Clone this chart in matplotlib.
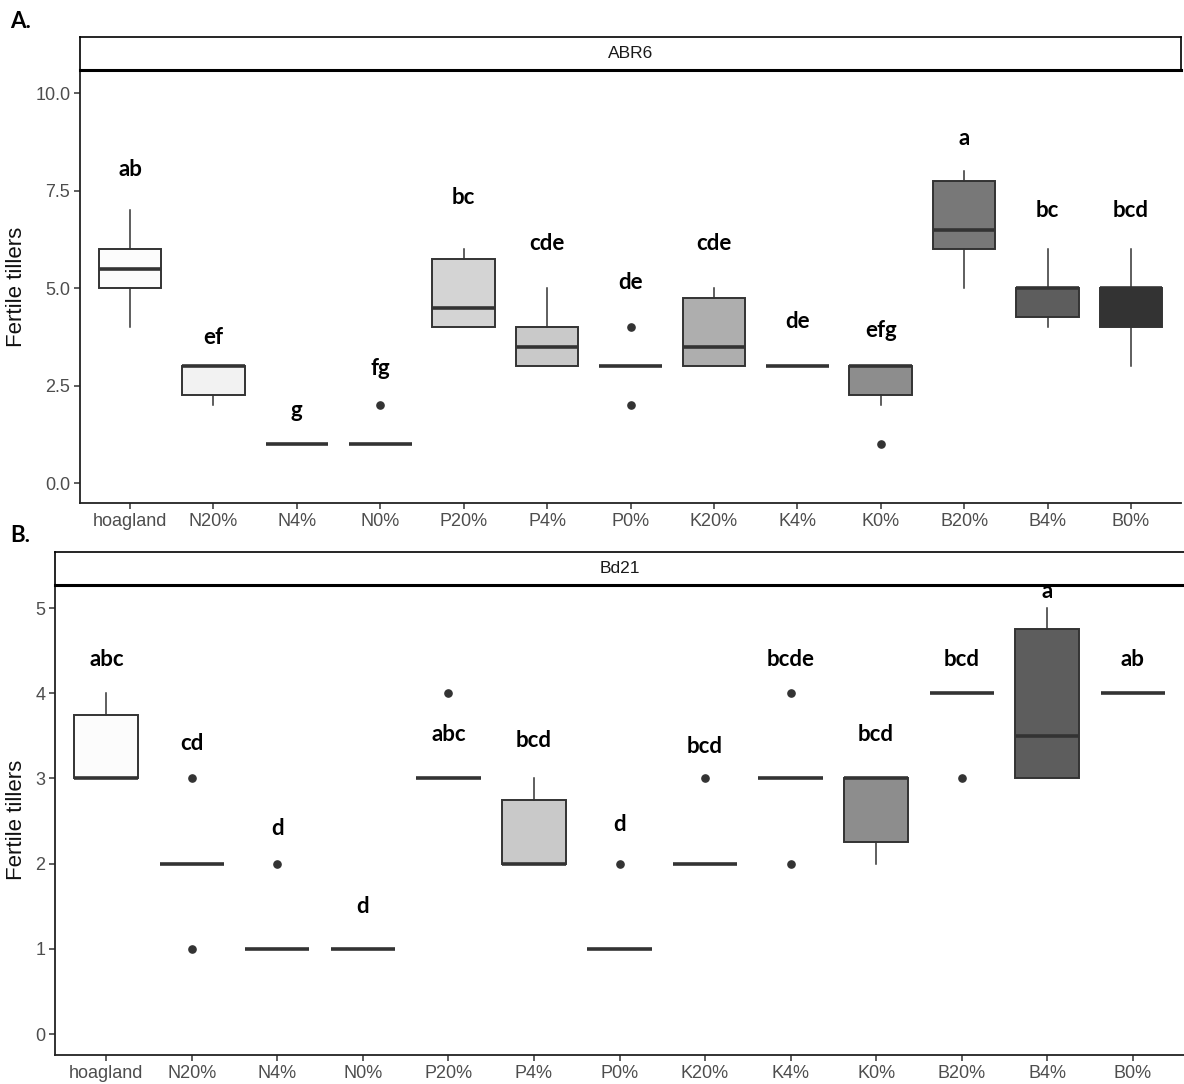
import matplotlib
matplotlib.use("Agg")
import matplotlib.pyplot as plt

plt.rcParams["font.family"] = ["Liberation Sans", "DejaVu Sans"]

# treatments on the x axis
groups = ["hoagland", "N20%", "N4%", "N0%", "P20%", "P4%", "P0%",
          "K20%", "K4%", "K0%", "B20%", "B4%", "B0%"]

# ABR6: five-number summaries and outliers per treatment
abr6_whislo = [4, 2, 1, 1, 4, 3, 3, 3, 3, 2, 5, 4, 3]
abr6_q1 = [5, 2.25, 1, 1, 4, 3, 3, 3, 3, 2.25, 6, 4.25, 4]
abr6_med = [5.5, 3, 1, 1, 4.5, 3.5, 3, 3.5, 3, 3, 6.5, 5, 5]
abr6_q3 = [6, 3, 1, 1, 5.75, 4, 3, 4.75, 3, 3, 7.75, 5, 5]
abr6_whishi = [7, 3, 1, 1, 6, 5, 3, 5, 3, 3, 8, 6, 6]
abr6_fliers = [[], [], [], [2], [], [], [4, 2], [], [], [1], [], [], []]
abr6_letters = ["ab", "ef", "g", "fg", "bc", "cde", "de", "cde", "de",
                "efg", "a", "bc", "bcd"]
abr6_letter_y = [8.05, 3.74, 1.87, 2.95, 7.33, 6.14, 5.14, 6.14, 4.15,
                 3.92, 8.83, 7.0, 7.0]

# Bd21
bd21_whislo = [3, 2, 1, 1, 3, 2, 1, 2, 3, 2, 4, 3, 4]
bd21_q1 = [3, 2, 1, 1, 3, 2, 1, 2, 3, 2.25, 4, 3, 4]
bd21_med = [3, 2, 1, 1, 3, 2, 1, 2, 3, 3, 4, 3.5, 4]
bd21_q3 = [3.75, 2, 1, 1, 3, 2.75, 1, 2, 3, 3, 4, 4.75, 4]
bd21_whishi = [4, 2, 1, 1, 3, 3, 1, 2, 3, 3, 4, 5, 4]
bd21_fliers = [[], [3, 1], [2], [], [4], [], [2], [3], [4, 2], [], [3], [], []]
bd21_letters = ["abc", "cd", "d", "d", "abc", "bcd", "d", "bcd", "bcde",
                "bcd", "bcd", "a", "ab"]
bd21_letter_y = [4.39, 3.41, 2.41, 1.50, 3.51, 3.45, 2.46, 3.38, 4.39,
                 3.51, 4.40, 5.19, 4.40]

# grey fill ramp, white to dark grey
fills = ["#FCFCFC", "#F2F2F2", "#E6E6E6", "#DEDEDE", "#D4D4D4", "#C9C9C9",
         "#BCBCBC", "#AEAEAE", "#9F9F9F", "#8D8D8D", "#787878", "#5D5D5D",
         "#333333"]

W, H = 1184, 1084
EDGE = "#333333"
LETTER_FONT = ["Lato", "DejaVu Sans"]


def px_rect(left, top, right, bottom):
    return [left / W, 1 - bottom / H, (right - left) / W, (bottom - top) / H]


def draw_panel(fig, rect, strip_rect, title, whislo, q1, med, q3, whishi,
               fliers, letters, letter_y, ylim, yticks, ylabels, strip_right=True):
    ax = fig.add_axes(rect)
    pos = list(range(1, len(groups) + 1))
    stats = []
    for i in range(len(groups)):
        stats.append(dict(whislo=whislo[i], q1=q1[i], med=med[i], q3=q3[i],
                          whishi=whishi[i], fliers=fliers[i]))
    res = ax.bxp(stats, positions=pos, widths=0.75, patch_artist=True,
                 showcaps=False,
                 boxprops=dict(edgecolor=EDGE, linewidth=1.4),
                 whiskerprops=dict(color=EDGE, linewidth=1.1),
                 medianprops=dict(color=EDGE, linewidth=2.6, solid_capstyle="butt"),
                 flierprops=dict(marker="o", markerfacecolor=EDGE,
                                 markeredgecolor=EDGE, markersize=5.2))
    for box, c in zip(res["boxes"], fills):
        box.set_facecolor(c)

    for x, t, y in zip(pos, letters, letter_y):
        ax.text(x, y, t, ha="center", va="center", fontsize=16,
                fontweight="bold", family=LETTER_FONT, color="black")

    ax.set_xlim(0.4, len(groups) + 0.6)
    ax.set_ylim(*ylim)
    ax.set_xticks(pos)
    ax.set_xticklabels(groups)
    ax.set_yticks(yticks)
    ax.set_yticklabels(ylabels)
    ax.tick_params(colors="#333333", labelcolor="#4D4D4D", labelsize=13,
                   length=4, width=1.1, pad=3)
    for s in ["top", "right"]:
        ax.spines[s].set_visible(False)
    for s in ["left", "bottom"]:
        ax.spines[s].set_linewidth(1.3)
        ax.spines[s].set_color("#222222")
    ax.set_ylabel("Fertile tillers", fontsize=16, color="#111111", labelpad=6)

    sx = fig.add_axes(strip_rect)
    sx.set_xticks([])
    sx.set_yticks([])
    for s in sx.spines.values():
        s.set_color("black")
        s.set_linewidth(1.2)
    sx.spines["bottom"].set_linewidth(2.2)
    if not strip_right:
        sx.spines["right"].set_visible(False)
    sx.text(0.5, 0.5, title, ha="center", va="center", fontsize=12.5,
            color="#1A1A1A", transform=sx.transAxes)
    return ax


fig = plt.figure(figsize=(W / 100, H / 100), dpi=100)
fig.patch.set_facecolor("white")

draw_panel(fig, px_rect(80, 70, 1181, 503), px_rect(80, 37, 1181, 70), "ABR6",
           abr6_whislo, abr6_q1, abr6_med, abr6_q3, abr6_whishi, abr6_fliers,
           abr6_letters, abr6_letter_y, (-0.51, 10.59),
           [0, 2.5, 5, 7.5, 10], ["0.0", "2.5", "5.0", "7.5", "10.0"])

draw_panel(fig, px_rect(55, 585, 1184, 1055), px_rect(55, 552, 1184, 585), "Bd21",
           bd21_whislo, bd21_q1, bd21_med, bd21_q3, bd21_whishi, bd21_fliers,
           bd21_letters, bd21_letter_y, (-0.246, 5.27),
           [0, 1, 2, 3, 4, 5], ["0", "1", "2", "3", "4", "5"], strip_right=False)

fig.text(10 / W, 1 - 22 / H, "A.", fontsize=16, fontweight="bold",
         family=LETTER_FONT, va="center", ha="left")
fig.text(10 / W, 1 - 535 / H, "B.", fontsize=16, fontweight="bold",
         family=LETTER_FONT, va="center", ha="left")

fig.savefig("out.png", dpi=100)
